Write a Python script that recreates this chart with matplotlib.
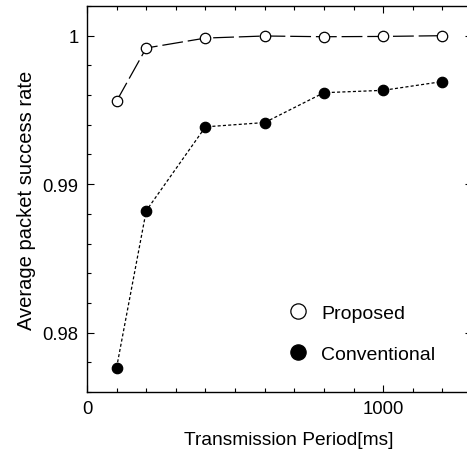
import matplotlib
matplotlib.use("Agg")
import matplotlib.pyplot as plt
from matplotlib.lines import Line2D
from matplotlib.ticker import MultipleLocator, FixedLocator, FixedFormatter

plt.rcParams['font.family'] = ['Liberation Sans', 'DejaVu Sans']
plt.rcParams['lines.scale_dashes'] = False

periods = [100, 200, 400, 600, 800, 1000, 1200]
proposed = [0.9956, 0.99917, 0.99984, 0.99998, 0.99993, 0.99995, 1.0]
conventional = [0.97765, 0.98821, 0.99386, 0.99415, 0.99616, 0.99632, 0.99691]
series_labels = ["Proposed", "Conventional"]
xtick_vals = [0, 1000]
xtick_labels = ["0", "1000"]
ytick_vals = [0.98, 0.99, 1.0]
ytick_labels = ["0.98", "0.99", "1"]

fig = plt.figure(figsize=(4.67, 4.52), dpi=100)
ax = fig.add_axes([87/467, 1 - 393/452, (472-87)/467, (393-7)/452])

ax.plot(periods, proposed, color='black', lw=0.9, dashes=(15, 3.5),
        marker='o', ms=7.5, mfc='white', mec='black', mew=0.9)
ax.plot(periods, conventional, color='black', lw=0.9, dashes=(2.2, 1.6),
        marker='o', ms=7.5, mfc='black', mec='black', mew=0.9)

ax.set_xlim(0, 1300)
ax.set_ylim(0.976, 1.002)

ax.xaxis.set_major_locator(FixedLocator(xtick_vals))
ax.xaxis.set_major_formatter(FixedFormatter(xtick_labels))
ax.xaxis.set_minor_locator(MultipleLocator(100))
ax.yaxis.set_major_locator(FixedLocator(ytick_vals))
ax.yaxis.set_major_formatter(FixedFormatter(ytick_labels))
ax.yaxis.set_minor_locator(MultipleLocator(0.002))

ax.tick_params(which='both', direction='in', top=True, right=True, labelsize=13.3, width=0.8)
ax.tick_params(which='major', length=5, pad=6)
ax.tick_params(which='minor', length=3)
for s in ax.spines.values():
    s.set_linewidth(1.0)

ax.set_xlabel("Transmission Period[ms]", fontsize=13.8)
ax.xaxis.set_label_coords((289-87)/385, -(432-393)/386)
ax.set_ylabel("Average packet success rate", fontsize=14.5, labelpad=5)

handles = [
    Line2D([], [], linestyle='none', marker='o', ms=11, mfc='white', mec='black', mew=0.9),
    Line2D([], [], linestyle='none', marker='o', ms=11, mfc='black', mec='black', mew=0.9),
]
ax.legend(handles, series_labels, loc='upper left', bbox_to_anchor=((286-87)/385, 1 - (305-7)/386),
          frameon=False, fontsize=14, handletextpad=0.6, labelspacing=1.2,
          borderpad=0, borderaxespad=0, handlelength=1.2)

fig.savefig("out.png", dpi=100)
